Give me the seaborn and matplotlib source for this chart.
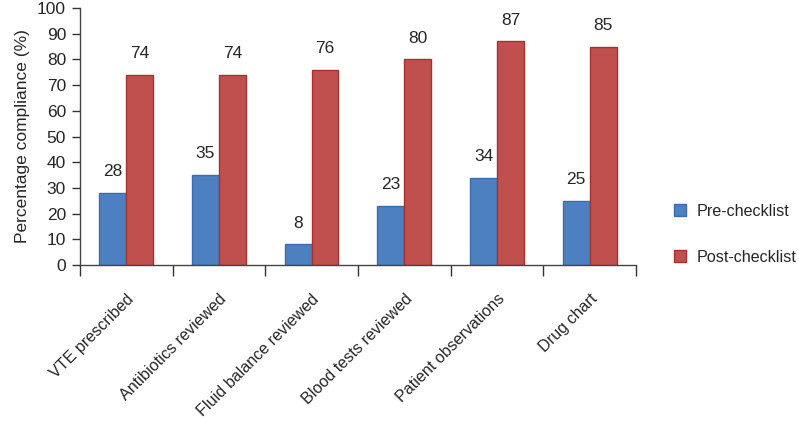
import pandas as pd
import matplotlib
matplotlib.use("Agg")
import matplotlib.pyplot as plt
import seaborn as sns
from matplotlib.ticker import FixedLocator

categories = ["VTE prescribed", "Antibiotics reviewed", "Fluid balance reviewed",
              "Blood tests reviewed", "Patient observations", "Drug chart"]
pre_values = [28, 35, 8, 23, 34, 25]
post_values = [74, 74, 76, 80, 87, 85]
series = ["Pre-checklist", "Post-checklist"]
y_ticks = list(range(0, 101, 10))

df = pd.DataFrame({
    "item": categories * 2,
    "group": [series[0]] * len(categories) + [series[1]] * len(categories),
    "value": pre_values + post_values,
})

sns.set_style("white")
plt.rcParams["font.family"] = ["Liberation Sans", "DejaVu Sans"]
fs = 11.6

fig = plt.figure(figsize=(7.99, 4.22), dpi=100)
ax = fig.add_axes([0.100, 0.372, 0.696, 0.609])

colors = {"Pre-checklist": "#4c80c0", "Post-checklist": "#c0504d"}
edges = {"Pre-checklist": "#3b6cab", "Post-checklist": "#a8312e"}
sns.barplot(data=df, x="item", y="value", hue="group", palette=colors,
            width=0.58, gap=0, ax=ax, legend=False, saturation=1)

for cont, name in zip(ax.containers, series):
    for bar in cont:
        bar.set_edgecolor(edges[name])
        bar.set_linewidth(1.0)
    ax.bar_label(cont, fmt="%d", padding=10, fontsize=12.5)

ax.set_ylim(0, 100)
ax.set_xlim(-0.5, len(categories) - 0.5)
ax.set_yticks(y_ticks)
ax.tick_params(axis="y", labelsize=12.5, length=6, width=1, color="#333333", pad=4, left=True)
ax.set_xticks(range(len(categories)))
ax.set_xticklabels(categories, rotation=45, ha="right", rotation_mode="anchor", fontsize=11.6)
ax.tick_params(axis="x", which="major", length=0, pad=19)
ax.xaxis.set_minor_locator(FixedLocator([i - 0.5 for i in range(len(categories) + 1)]))
ax.tick_params(axis="x", which="minor", length=8, width=1, color="#333333", bottom=True)
ax.set_xlabel("")
ax.set_ylabel("Percentage compliance (%)", fontsize=12.5, labelpad=5)

sns.despine(ax=ax)
for s in ["left", "bottom"]:
    ax.spines[s].set_color("#444444")
    ax.spines[s].set_linewidth(1.0)
    ax.spines[s].set_linestyle((0, (2, 1)))

handles = [plt.Rectangle((0, 0), 1, 1, facecolor=colors[n], edgecolor=edges[n]) for n in series]
fig.legend(handles, series, loc="center left", bbox_to_anchor=(0.839, 0.445),
           frameon=False, fontsize=fs, handlelength=0.75, handleheight=0.75,
           labelspacing=1.9, handletextpad=0.7, borderpad=0.2, borderaxespad=0)

fig.savefig("out.png", dpi=100)
